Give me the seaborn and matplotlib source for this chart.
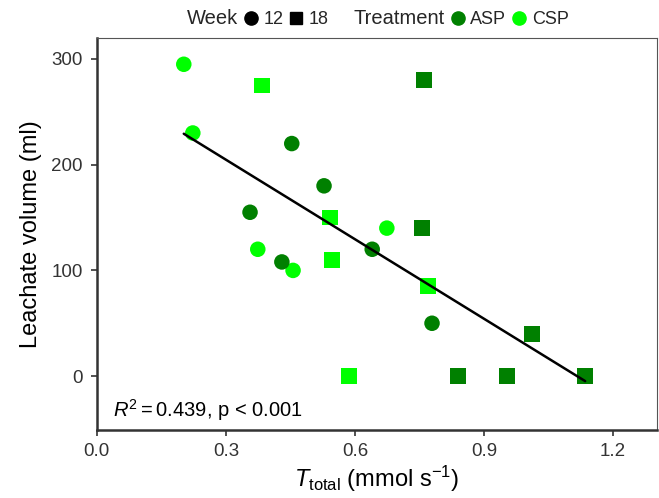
import matplotlib
matplotlib.use("Agg")
import matplotlib.pyplot as plt
from matplotlib.lines import Line2D
import seaborn as sns
import pandas as pd

sns.set_theme(style="white")
plt.rcParams['font.family'] = ['Liberation Sans', 'DejaVu Sans']
plt.rcParams['mathtext.fontset'] = 'custom'
plt.rcParams['mathtext.rm'] = 'Liberation Sans'
plt.rcParams['mathtext.it'] = 'Liberation Sans:italic'

# Data
t_total = [0.202, 0.223, 0.374, 0.456, 0.674,
           0.356, 0.453, 0.430, 0.528, 0.640, 0.779,
           0.384, 0.542, 0.547, 0.586, 0.770,
           0.760, 0.756, 1.012, 0.840, 0.953, 1.135]
leachate = [295, 230, 120, 100, 140,
            155, 220, 108, 180, 120, 50,
            275, 150, 110, 0, 85,
            280, 140, 40, 0, 0, 0]
week = ["12"] * 11 + ["18"] * 11
treatment = (["CSP"] * 5 + ["ASP"] * 6 + ["CSP"] * 5 + ["ASP"] * 6)

week_levels = ["12", "18"]
treat_levels = ["ASP", "CSP"]
treat_colors = {"ASP": "#008000", "CSP": "#00FF00"}
week_markers = {"12": "o", "18": "s"}

df = pd.DataFrame({"T": t_total, "V": leachate, "Week": week, "Treatment": treatment})

fig = plt.figure(figsize=(6.59, 4.98), dpi=100)
ax = fig.add_axes([0.147, 0.1365, 0.85, 0.7875])

sns.scatterplot(data=df, x="T", y="V", hue="Treatment", style="Week",
                palette=treat_colors, markers=week_markers,
                hue_order=treat_levels, style_order=week_levels,
                s=125, linewidth=0, legend=False, ax=ax, zorder=3)
sns.regplot(data=df, x="T", y="V", scatter=False, ci=None, truncate=True,
            line_kws=dict(color="black", lw=1.8, zorder=4), ax=ax)

ax.set_xlim(0, 1.302)
ax.set_ylim(-51, 320)
ax.set_xticks([0.0, 0.3, 0.6, 0.9, 1.2])
ax.set_xticklabels(["0.0", "0.3", "0.6", "0.9", "1.2"])
ax.set_yticks([0, 100, 200, 300])
ax.tick_params(axis="both", direction="out", length=4, width=1.2, color="#333333",
               labelsize=13.5, labelcolor="#333333", bottom=True, left=True)
ax.tick_params(axis="x", pad=5)
ax.tick_params(axis="y", pad=6)
ax.set_xlabel(r"$T_{\mathrm{total}}$ (mmol s$^{-1}$)", fontsize=17, color="black", labelpad=3)
ax.set_ylabel("Leachate volume (ml)", fontsize=17, color="black", labelpad=7)
for side in ["left", "bottom"]:
    ax.spines[side].set_linewidth(1.8)
    ax.spines[side].set_color("#333333")
for side in ["top", "right"]:
    ax.spines[side].set_linewidth(0.8)
    ax.spines[side].set_color("#555555")

ax.text(0.029, 0.052, r"$R^2 = 0.439$, p < 0.001", transform=ax.transAxes,
        fontsize=14.5, color="black", ha="left", va="center")

blank = Line2D([], [], linestyle="none")
handles = [blank,
           Line2D([], [], marker="o", linestyle="none", color="black", markersize=9.5),
           Line2D([], [], marker="s", linestyle="none", color="black", markersize=8.5),
           blank,
           Line2D([], [], marker="o", linestyle="none", color=treat_colors["ASP"], markersize=9.5),
           Line2D([], [], marker="o", linestyle="none", color=treat_colors["CSP"], markersize=9.5)]
labels = ["Week", "12", "18", "Treatment", "ASP", "CSP"]
leg = fig.legend(handles, labels, loc="center", bbox_to_anchor=(0.558, 0.962), ncol=6,
                 frameon=False, fontsize=13, handlelength=0.8, handletextpad=0.3,
                 columnspacing=0.3, borderaxespad=0)
for t, lab in zip(leg.get_texts(), labels):
    if lab in ("Week", "Treatment"):
        t.set_fontsize(14.5)

fig.savefig("out.png", dpi=100)
